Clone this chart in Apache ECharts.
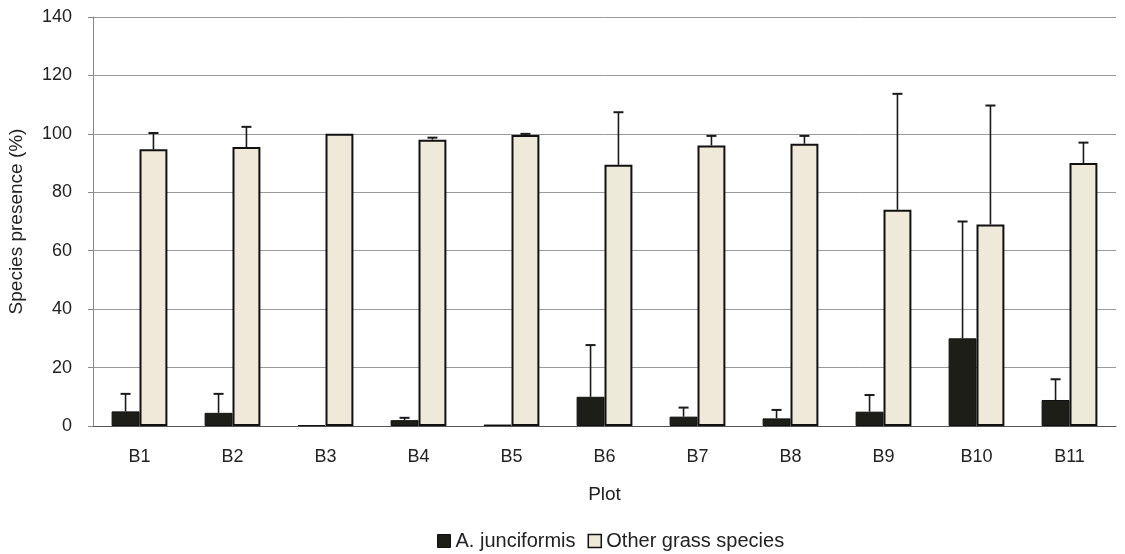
<!DOCTYPE html>
<html>
<head>
<meta charset="utf-8">
<script src="https://cdn.jsdelivr.net/npm/echarts@6/dist/echarts.min.js"></script>
<style>html,body{margin:0;padding:0;background:#fff}#c{width:1125px;height:554px}</style>
</head>
<body>
<div id="c"></div>
<script>
const categories = ['B1','B2','B3','B4','B5','B6','B7','B8','B9','B10','B11'];
const juncValues = [5, 4.5, 0.3, 2, 0.5, 10, 3.2, 2.6, 4.9, 30, 8.9];
const juncErrTop = [11, 11, null, 2.8, null, 27.7, 6.3, 5.5, 10.6, 70, 16];
const otherValues = [94.7, 95.5, 100, 98, 99.6, 89.4, 96, 96.6, 74, 69, 90];
const otherErrTop = [100.3, 102.4, null, 98.7, 100, 107.4, 99.3, 99.3, 113.7, 109.7, 97];
const yTicks = [0, 20, 40, 60, 80, 100, 120, 140];

const chart = echarts.init(document.getElementById('c'));
const font = 'Liberation Sans, Arial, sans-serif';

function errData(vals, tops) {
  const out = [];
  vals.forEach((v, i) => { if (tops[i] != null && tops[i] > v) out.push([i, v, tops[i]]); });
  return out;
}
function errRender(sign) {
  return function (params, api) {
    const i = api.value(0);
    const base = api.coord([i, api.value(1)]);
    const top = api.coord([i, api.value(2)]);
    const band = api.size([1, 0])[0];
    const x = base[0] + sign * band * 0.15;
    const cap = 5;
    return {
      type: 'group',
      children: [
        { type: 'line', shape: { x1: x, y1: base[1], x2: x, y2: top[1] }, style: { stroke: '#1a1a1a', lineWidth: 1.6 } },
        { type: 'line', shape: { x1: x - cap, y1: top[1], x2: x + cap, y2: top[1] }, style: { stroke: '#1a1a1a', lineWidth: 2 } }
      ]
    };
  };
}

chart.setOption({
  animation: false,
  backgroundColor: '#fff',
  textStyle: { fontFamily: font },
  grid: { left: 93, right: 9, top: 17, bottom: 128, containLabel: false, outerBoundsMode: 'none' },
  legend: {
    data: [
      { name: 'A. junciformis', itemStyle: { color: '#1e1e18', borderColor: '#111', borderWidth: 1 } },
      { name: 'Other grass species', itemStyle: { color: '#efe9da', borderColor: '#111', borderWidth: 1.5 } }
    ],
    top: 531, left: 437, padding: 0,
    icon: 'rect', itemWidth: 13, itemHeight: 13, itemGap: 12,
    textStyle: { fontSize: 20, color: '#222', fontFamily: font }
  },
  xAxis: {
    type: 'category',
    data: categories,
    name: 'Plot', nameLocation: 'middle', nameGap: 59,
    nameTextStyle: { fontSize: 19, color: '#222' },
    axisLine: { lineStyle: { color: '#555', width: 1 } },
    axisTick: { inside: true, length: 5, lineStyle: { color: '#666' } },
    axisLabel: { fontSize: 18, color: '#222', margin: 22 }
  },
  yAxis: {
    type: 'value', min: 0, max: 140, interval: 20,
    name: 'Species presence (%)', nameLocation: 'middle', nameGap: 67, nameRotate: 90,
    nameTextStyle: { fontSize: 19, color: '#222' },
    axisLine: { show: true, lineStyle: { color: '#888', width: 1 } },
    axisTick: { show: true, length: 5, lineStyle: { color: '#888' } },
    axisLabel: { fontSize: 18, color: '#222', margin: 21, formatter: v => yTicks.includes(v) ? String(v) : '' },
    splitLine: { lineStyle: { color: '#9a9a9a', width: 1 } }
  },
  series: [
    {
      name: 'A. junciformis', type: 'bar', data: juncValues,
      barWidth: '30%', barGap: '0%',
      itemStyle: { color: '#1e1e18', borderColor: '#111', borderWidth: 1 }
    },
    {
      name: 'Other grass species', type: 'bar', data: otherValues,
      barWidth: '30%', barGap: '0%',
      itemStyle: { color: '#efe9da', borderColor: '#111', borderWidth: 2 }
    },
    { type: 'custom', renderItem: errRender(-1), data: errData(juncValues, juncErrTop), encode: { x: 0, y: [1, 2] }, z: 5 },
    { type: 'custom', renderItem: errRender(1), data: errData(otherValues, otherErrTop), encode: { x: 0, y: [1, 2] }, z: 5 }
  ]
});
</script>
</body>
</html>
